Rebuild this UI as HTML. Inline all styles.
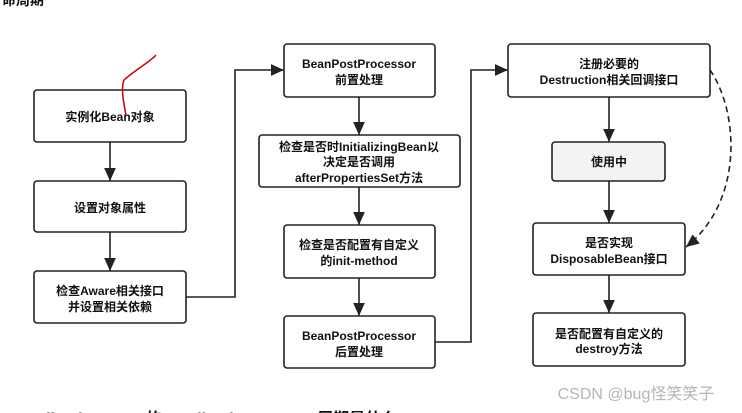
<!DOCTYPE html>
<html><head><meta charset="utf-8"><style>
html,body{margin:0;padding:0;background:#fff;}
svg{display:block;}
text{font-family:"Liberation Sans","Noto Sans CJK SC",sans-serif;font-weight:bold;font-size:12px;fill:#111;text-anchor:middle;}
</style></head><body>
<svg width="742" height="413" viewBox="0 0 742 413" xmlns="http://www.w3.org/2000/svg">
<defs>
<marker id="a" viewBox="0 0 10 10" refX="10" refY="5" markerWidth="13" markerHeight="13" markerUnits="userSpaceOnUse" orient="auto"><path d="M0,0.5 L10,5 L0,9.5 z" fill="#222"/></marker>
<marker id="b" viewBox="0 0 10 10" refX="10" refY="5" markerWidth="13" markerHeight="13" markerUnits="userSpaceOnUse" orient="auto"><path d="M0,0.5 L10,5 L0,9.5 z" fill="#222"/></marker>
</defs>
<text x="2" y="5" style="text-anchor:start;font-size:14px">命周期</text>
<g fill="#fff" stroke="#222" stroke-width="1.6">
<rect x="34" y="90" width="152" height="52" rx="3"/>
<rect x="34" y="181" width="152" height="51" rx="3"/>
<rect x="34" y="271" width="152" height="52" rx="3"/>
<rect x="284" y="44" width="151" height="53" rx="3"/>
<rect x="259" y="135" width="201" height="52" rx="3"/>
<rect x="284" y="225" width="151" height="53" rx="3"/>
<rect x="284" y="316" width="151" height="52" rx="3"/>
<rect x="508" y="44" width="202" height="53" rx="3"/>
<rect x="552" y="142" width="113" height="39" rx="3" fill="#f3f3f3"/>
<rect x="533" y="223" width="152" height="52" rx="3"/>
<rect x="533" y="313" width="152" height="53" rx="3"/>
</g>
<g stroke="#222" stroke-width="1.6" fill="none">
<line x1="110" y1="142" x2="110" y2="181" marker-end="url(#a)"/>
<line x1="110" y1="232" x2="110" y2="271" marker-end="url(#a)"/>
<line x1="359" y1="97" x2="359" y2="135" marker-end="url(#a)"/>
<line x1="359" y1="187" x2="359" y2="225" marker-end="url(#a)"/>
<line x1="359" y1="278" x2="359" y2="316" marker-end="url(#a)"/>
<line x1="609" y1="97" x2="609" y2="142" marker-end="url(#a)"/>
<line x1="609" y1="181" x2="609" y2="223" marker-end="url(#a)"/>
<line x1="609" y1="275" x2="609" y2="313" marker-end="url(#a)"/>
<polyline points="186,297 235,297 235,70 284,70" marker-end="url(#b)"/>
<polyline points="435,342 471,342 471,70 508,70" marker-end="url(#b)"/>
<path d="M710,70 C738,110 745,200 686,247" stroke-dasharray="6,4" marker-end="url(#b)"/>
<path d="M156,55 C150,62 135,70 124,80 C121,88 123,100 126,115" stroke="#c00" stroke-width="1.5"/>
</g>
<text x="110" y="121">实例化Bean对象</text>
<text x="110" y="212">设置对象属性</text>
<text x="110" y="295">检查Aware相关接口</text>
<text x="110" y="311">并设置相关依赖</text>
<text x="359" y="68">BeanPostProcessor</text>
<text x="359" y="84">前置处理</text>
<text x="359" y="151">检查是否时InitializingBean以</text>
<text x="359" y="166">决定是否调用</text>
<text x="359" y="182">afterPropertiesSet方法</text>
<text x="359" y="249">检查是否配置有自定义</text>
<text x="359" y="265">的init-method</text>
<text x="359" y="340">BeanPostProcessor</text>
<text x="359" y="356">后置处理</text>
<text x="609" y="68">注册必要的</text>
<text x="609" y="84">Destruction相关回调接口</text>
<text x="609" y="166">使用中</text>
<text x="609" y="247">是否实现</text>
<text x="609" y="263">DisposableBean接口</text>
<text x="609" y="338">是否配置有自定义的</text>
<text x="609" y="353">destroy方法</text>
<text x="636" y="399" style="font-weight:normal;font-size:16px;fill:#b5b5b5">CSDN @bug怪笑笑子</text>
<text x="15" y="424" style="text-anchor:start;font-size:16px">ApplicationBean 的 ApplicationContext 周期是什么</text>
</svg>
</body></html>
